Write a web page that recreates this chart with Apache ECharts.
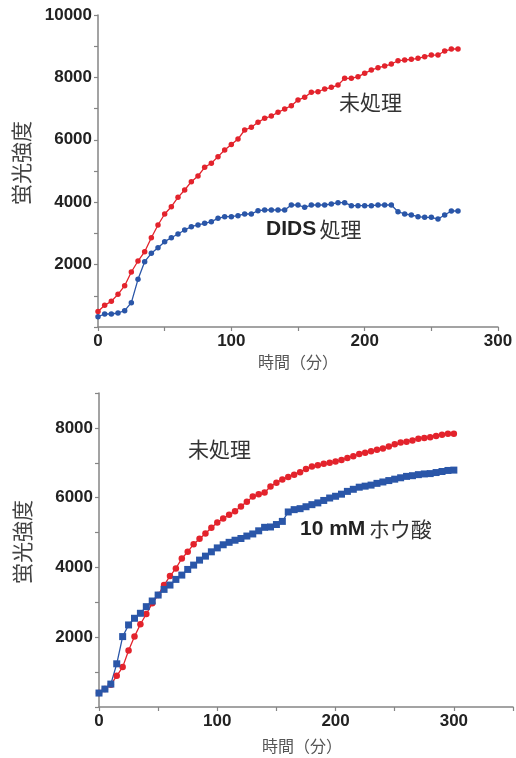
<!DOCTYPE html>
<html>
<head>
<meta charset="utf-8">
<script src="https://cdn.jsdelivr.net/npm/echarts@6/dist/echarts.min.js"></script>
<style>
html,body{margin:0;padding:0;background:#fff;}
#chart{width:516px;height:758px;}
</style>
</head>
<body>
<div id="chart"></div>
<script>
// ---- Data ----
const topTime = [0,5,10,15,20,25,30,35,40,45,50,55,60,65,70,75,80,85,90,95,100,105,110,115,120,125,130,135,140,145,150,155,160,165,170,175,180,185,190,195,200,205,210,215,220,225,230,235,240,245,250,255,260,265,270];
const topUntreated = [500,695,823,1047,1325,1763,2115,2414,2862,3270,3622,3856,4156,4391,4657,4840,5118,5247,5460,5673,5850,6025,6314,6400,6560,6689,6763,6881,6987,7093,7275,7362,7522,7541,7628,7682,7756,7970,7970,8023,8130,8236,8311,8365,8429,8535,8557,8578,8610,8663,8717,8717,8845,8910,8910];
const topDIDS = [331,417,417,449,523,780,1528,2093,2360,2543,2735,2862,2981,3109,3216,3270,3322,3376,3483,3536,3536,3568,3622,3622,3728,3750,3750,3750,3750,3910,3910,3835,3910,3910,3910,3942,3985,3985,3888,3888,3888,3888,3910,3910,3910,3696,3622,3590,3536,3515,3515,3461,3590,3718,3718];

const bottomTime = [0,5,10,15,20,25,30,35,40,45,50,55,60,65,70,75,80,85,90,95,100,105,110,115,120,125,130,135,140,145,150,155,160,165,170,175,180,185,190,195,200,205,210,215,220,225,230,235,240,245,250,255,260,265,270,275,280,285,290,295,300];
const bottomUntreated = [400,514,640,895,1143,1618,2018,2371,2667,2971,3209,3495,3752,3971,4257,4448,4667,4819,4971,5140,5290,5400,5510,5610,5750,5880,6030,6100,6150,6320,6430,6520,6590,6660,6730,6820,6890,6930,6970,7000,7040,7080,7140,7190,7250,7290,7330,7370,7410,7470,7530,7580,7600,7640,7690,7710,7730,7770,7800,7830,7830];
const bottomBoric = [400,514,657,1238,2018,2352,2543,2686,2876,3038,3209,3371,3495,3657,3781,3943,4067,4210,4324,4448,4560,4650,4720,4780,4830,4900,4960,5050,5150,5160,5230,5320,5590,5657,5685,5740,5800,5850,5920,5990,6040,6100,6180,6240,6300,6330,6360,6410,6450,6490,6530,6570,6610,6630,6660,6680,6690,6720,6750,6780,6790];

const xLabelsShown = [0,100,200,300];
const yLabelsTop = [2000,4000,6000,8000,10000];
const yLabelsBottom = [2000,4000,6000,8000];

const yName = '蛍光強度';
const xName = '時間（分）';

// ---- Chart ----
const RED = '#e3232c';
const BLUE = '#2a56a8';
const AXIS = '#858585';
const CJK = '"Noto Sans CJK JP", "Noto Sans", sans-serif';
const NUM = '"Liberation Sans", Arial, sans-serif';

function pairs(t, v){ return t.map((x,i)=>[x, v[i]]); }

function xAxisCfg(gridIndex, max, gap, pad){
  return {
    type:'value', gridIndex, min:0, max, interval:50,
    axisLine:{show:true, onZero:false, lineStyle:{color:AXIS, width:1.5}},
    axisTick:{show:true, inside:false, length:4, lineStyle:{color:AXIS, width:1.2}},
    splitLine:{show:false},
    axisLabel:{
      margin:6, fontFamily:NUM, fontWeight:'bold', fontSize:17, color:'#222',
      formatter:v=> xLabelsShown.includes(v) ? String(v) : ''
    },
    name:xName, nameLocation:'middle', nameGap:gap,
    nameTextStyle:{fontFamily:CJK, fontSize:16, color:'#555', padding:pad}
  };
}
function yAxisCfg(gridIndex, max, labels){
  return {
    type:'value', gridIndex, min:0, max, interval:1000,
    axisLine:{show:true, lineStyle:{color:AXIS, width:1.5}},
    axisTick:{show:true, inside:false, length:4, lineStyle:{color:AXIS, width:1.2}},
    splitLine:{show:false},
    axisLabel:{
      margin:6, fontFamily:NUM, fontWeight:'bold', fontSize:17, color:'#222',
      formatter:v=> labels.includes(v) ? String(v) : ''
    },
    name:yName, nameLocation:'middle', nameGap:66, nameRotate:90,
    nameTextStyle:{fontFamily:CJK, fontSize:21, color:'#444', padding:[0,0,0,16]}
  };
}
function lineSeries(name, xi, data, color, symbol, size){
  return {
    name, type:'line', xAxisIndex:xi, yAxisIndex:xi, data,
    symbol, symbolSize:size, showSymbol:true,
    lineStyle:{color, width:1.3}, itemStyle:{color},
    emphasis:{disabled:true}, animation:false
  };
}

const chart = echarts.init(document.getElementById('chart'), null, {renderer:'canvas'});
chart.setOption({
  backgroundColor:'#fff',
  animation:false,
  grid:[
    {left:98, right:18, top:15, height:312},
    {left:99, right:1, top:393, height:314}
  ],
  xAxis:[ xAxisCfg(0, 300, 27, [0,0,0,0]), xAxisCfg(1, 350, 31, [0,8,0,0]) ],
  yAxis:[ yAxisCfg(0, 10000, yLabelsTop), yAxisCfg(1, 9000, yLabelsBottom) ],
  series:[
    lineSeries('未処理', 0, pairs(topTime, topUntreated), RED, 'circle', 5.5),
    lineSeries('DIDS 処理', 0, pairs(topTime, topDIDS), BLUE, 'circle', 5.5),
    lineSeries('未処理', 1, pairs(bottomTime, bottomUntreated), RED, 'circle', 6.5),
    lineSeries('10 mM ホウ酸', 1, pairs(bottomTime, bottomBoric), BLUE, 'rect', 7)
  ],
  graphic:[
    {type:'text', left:339, top:92, style:{text:'未処理', font:'21px '+CJK, fill:'#333'}},
    {type:'text', left:266, top:219, style:{
      text:'{b|DIDS} {n|処理}',
      rich:{
        b:{fontFamily:NUM, fontWeight:'bold', fontSize:21, fill:'#222'},
        n:{fontFamily:CJK, fontSize:21, fill:'#333'}
      }}},
    {type:'text', left:188, top:439, style:{text:'未処理', font:'21px '+CJK, fill:'#333'}},
    {type:'text', left:300, top:519, style:{
      text:'{b|10 mM} {n|ホウ酸}',
      rich:{
        b:{fontFamily:NUM, fontWeight:'bold', fontSize:21, fill:'#222'},
        n:{fontFamily:CJK, fontSize:21, fill:'#333'}
      }}}
  ]
});
</script>
</body>
</html>
